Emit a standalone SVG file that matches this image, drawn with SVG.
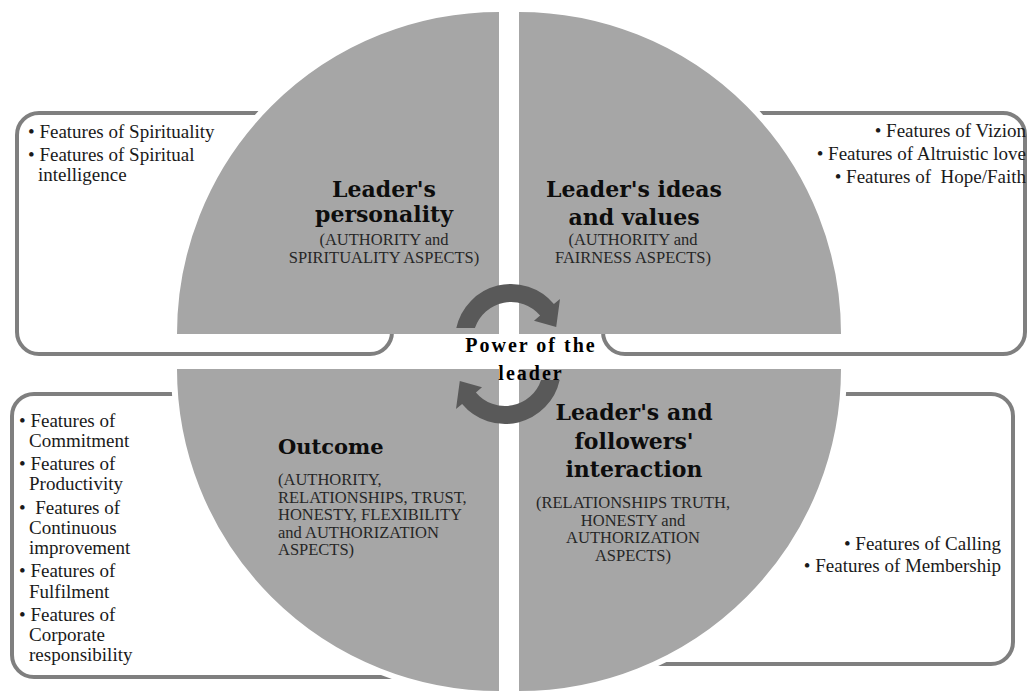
<svg xmlns="http://www.w3.org/2000/svg" width="1028" height="692" viewBox="0 0 1028 692">
<style>
.box{fill:#fff;stroke:#7f7f7f;stroke-width:4}
.quad{fill:#a6a6a6}
.qedge{fill:none;stroke:#fff;stroke-width:6}
.arrow{fill:#595959}
.bul{font-family:"Liberation Serif","Times New Roman",serif;font-size:19px;fill:#1a1a1a}
.ttl{font-family:"DejaVu Serif","Liberation Serif",serif;font-weight:bold;font-size:22px;fill:#0d0d0d}
.sub{font-family:"Liberation Serif","Times New Roman",serif;font-size:16.5px;fill:#262626}
.ctr{font-family:"Liberation Serif","Times New Roman",serif;font-weight:bold;font-size:20px;letter-spacing:2px;fill:#000}
</style>
<rect width="1028" height="692" fill="#fff"/>

<g id="box-spirituality">
<rect class="box" x="17" y="113" width="375" height="241" rx="22"/>
<text class="bul" x="28" y="138">• Features of Spirituality</text>
<text class="bul" x="28" y="161">• Features of Spiritual</text>
<text class="bul" x="38" y="181">intelligence</text>
</g>

<g id="box-vision">
<rect class="box" x="603" y="113" width="422" height="241" rx="22"/>
<text class="bul" x="1026" y="137" text-anchor="end">• Features of Vizion</text>
<text class="bul" x="1026" y="160" text-anchor="end">• Features of Altruistic love</text>
<text class="bul" x="1026" y="183" text-anchor="end" xml:space="preserve">• Features of  Hope/Faith</text>
</g>

<g id="box-outcome-features">
<rect class="box" x="12" y="394" width="470" height="283" rx="22"/>
<text class="bul" x="19" y="427">• Features of</text>
<text class="bul" x="29" y="447">Commitment</text>
<text class="bul" x="19" y="470">• Features of</text>
<text class="bul" x="29" y="490">Productivity</text>
<text class="bul" x="19" y="514" xml:space="preserve">•  Features of</text>
<text class="bul" x="29" y="534">Continuous</text>
<text class="bul" x="29" y="554">improvement</text>
<text class="bul" x="19" y="577">• Features of</text>
<text class="bul" x="29" y="598">Fulfilment</text>
<text class="bul" x="19" y="621">• Features of</text>
<text class="bul" x="29" y="641">Corporate</text>
<text class="bul" x="29" y="661">responsibility</text>
</g>

<g id="box-calling">
<rect class="box" x="540" y="394" width="473" height="270" rx="22"/>
<text class="bul" x="1001" y="550" text-anchor="end">• Features of Calling</text>
<text class="bul" x="1001" y="572" text-anchor="end">• Features of Membership</text>
</g>

<g id="quad-personality">
<path class="quad" d="M499,334 L174,334 A325,325 0 0 1 499,9 Z"/>
<path class="qedge" d="M174,334 A325,325 0 0 1 499,9"/>
<text class="ttl" x="384" y="197" text-anchor="middle">Leader's</text>
<text class="ttl" x="384" y="222" text-anchor="middle">personality</text>
<text class="sub" x="384" y="245" text-anchor="middle">(AUTHORITY and</text>
<text class="sub" x="384" y="263" text-anchor="middle">SPIRITUALITY ASPECTS)</text>
</g>

<g id="quad-ideas">
<path class="quad" d="M519,334 L519,9 A325,325 0 0 1 844,334 Z"/>
<path class="qedge" d="M519,9 A325,325 0 0 1 844,334"/>
<text class="ttl" x="634" y="197" text-anchor="middle">Leader's ideas</text>
<text class="ttl" x="634" y="225" text-anchor="middle">and values</text>
<text class="sub" x="633" y="245" text-anchor="middle">(AUTHORITY and</text>
<text class="sub" x="633" y="263" text-anchor="middle">FAIRNESS ASPECTS)</text>
</g>

<g id="quad-interaction">
<path class="quad" d="M519,369 L844,369 A325,325 0 0 1 519,694 Z"/>
<path class="qedge" d="M844,369 A325,325 0 0 1 519,694"/>
<text class="ttl" x="634" y="420" text-anchor="middle">Leader's and</text>
<text class="ttl" x="634" y="449" text-anchor="middle">followers'</text>
<text class="ttl" x="634" y="477" text-anchor="middle">interaction</text>
<text class="sub" x="633" y="508" text-anchor="middle">(RELATIONSHIPS TRUTH,</text>
<text class="sub" x="633" y="526" text-anchor="middle">HONESTY and</text>
<text class="sub" x="633" y="543" text-anchor="middle">AUTHORIZATION</text>
<text class="sub" x="633" y="561" text-anchor="middle">ASPECTS)</text>
</g>

<g id="quad-outcome">
<path class="quad" d="M499,369 L499,694 A325,325 0 0 1 174,369 Z"/>
<path class="qedge" d="M499,694 A325,325 0 0 1 174,369"/>
<text class="ttl" x="278" y="454" style="font-size:21px">Outcome</text>
<text class="sub" x="278" y="485">(AUTHORITY,</text>
<text class="sub" x="278" y="503">RELATIONSHIPS, TRUST,</text>
<text class="sub" x="278" y="520">HONESTY, FLEXIBILITY</text>
<text class="sub" x="278" y="538">and AUTHORIZATION</text>
<text class="sub" x="278" y="555">ASPECTS)</text>
</g>

<g id="connectors">
<path id="cycle-arrow-top" class="arrow" d="M456.3,328 A56,56 0 0 1 553.9,304 L560,298.9 L556.2,327 L534,320.7 L540.1,315.6 A38,38 0 0 0 474.9,328 Z"/>
<path id="cycle-arrow-bottom" class="arrow" transform="rotate(180 508 354)" d="M456.3,328 A56,56 0 0 1 553.9,304 L560,298.9 L556.2,327 L534,320.7 L540.1,315.6 A38,38 0 0 0 474.9,328 Z"/>
</g>

<g id="center-power">
<text class="ctr" x="531" y="352" text-anchor="middle">Power of the</text>
<text class="ctr" x="531" y="380" text-anchor="middle">leader</text>
</g>
</svg>
